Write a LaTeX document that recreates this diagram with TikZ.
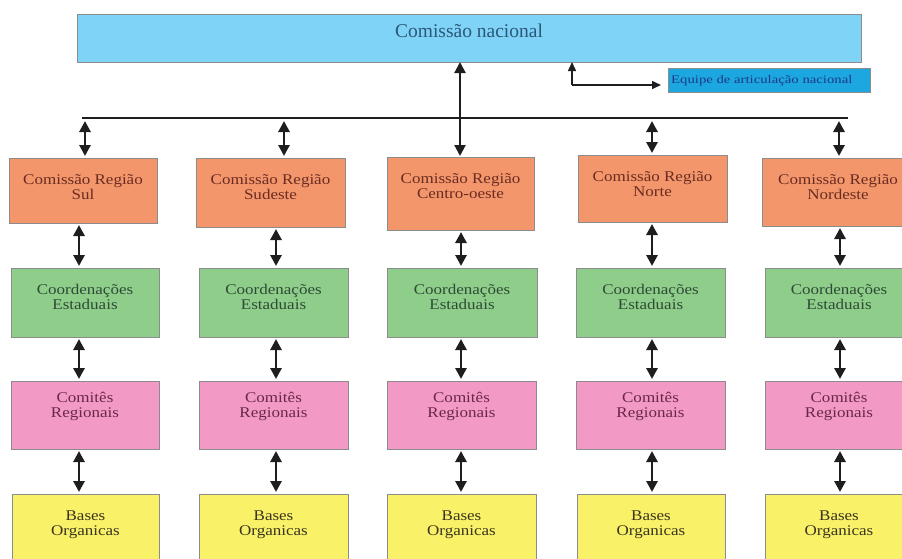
\documentclass[tikz,border=0pt]{standalone}
\usepackage{fontspec}
\setmainfont{Liberation Serif}
\newfontfamily\bodyfont{Liberation Serif}[FakeStretch=1.15]
\newfontfamily\eqfont{Liberation Serif}[FakeStretch=1.27]
\usetikzlibrary{arrows.meta}
\definecolor{topblue}{HTML}{7FD3F6}
\definecolor{eqblue}{HTML}{1CA7E0}
\definecolor{orangebox}{HTML}{F4966B}
\definecolor{greenbox}{HTML}{8FCE8A}
\definecolor{pinkbox}{HTML}{F29AC5}
\definecolor{yellowbox}{HTML}{F9F167}
\definecolor{bordergray}{HTML}{8C8C8C}
\definecolor{toptext}{HTML}{2C5878}
\definecolor{eqtext}{HTML}{1B3A8A}
\definecolor{orangetext}{HTML}{6A2C22}
\definecolor{greentext}{HTML}{2E4A36}
\definecolor{pinktext}{HTML}{6A2846}
\definecolor{yellowtext}{HTML}{3A3420}
\definecolor{arrowblack}{HTML}{1E1E1E}
\tikzset{
  box/.style={draw=bordergray, line width=0.9pt, rectangle, inner sep=0pt, outer sep=0pt, anchor=north west},
  obox/.style={box, fill=orangebox},
  gbox/.style={box, fill=greenbox},
  pbox/.style={box, fill=pinkbox},
  ybox/.style={box, fill=yellowbox},
  txt/.style={inner sep=0pt, outer sep=0pt, anchor=north, align=center, font=\bodyfont\fontsize{14.8}{15}\selectfont},
  dbl/.style={draw=arrowblack, line width=2.8pt, {Triangle[length=11pt,width=11pt]}-{Triangle[length=11pt,width=11pt]}, shorten <=2pt, shorten >=2pt},
  sarr/.style={draw=arrowblack, line width=1.5pt, -{Triangle[length=9pt,width=8pt]}},
  bar/.style={draw=arrowblack, line width=2.6pt}
}
\begin{document}
\begin{tikzpicture}[x={(1pt,0)}, y={(0,-1pt)}]
\useasboundingbox (0,0) rectangle (902,558);
\clip (0,0) rectangle (902,558);
% top box
\node[box, fill=topblue, minimum width=784pt, minimum height=48pt] (top) at (77,14) {};
\node[inner sep=0pt, anchor=north, text=toptext, font=\fontsize{19.5}{20}\selectfont] (topt) at ([yshift=-9.5pt]top.north) {Comissão nacional};
% equipe box
\node[box, fill=eqblue, minimum width=202pt, minimum height=24pt] (eq) at (668,68) {};
\node[inner sep=0pt, anchor=base west, text=eqtext, font=\eqfont\fontsize{11.6}{12}\selectfont] (eqt) at (671,83) {Equipe de articulação nacional};
\coordinate (eqc) at (572,85);
\coordinate (eqtip) at (661,85);
\draw[sarr] (eqc) -- (eqc |- top.south);
\draw[sarr] (eqc) -- (eqtip);
% row 1
\node[obox, minimum width=148pt, minimum height=65pt] (s1) at (9,158) {};
\node[obox, minimum width=149pt, minimum height=69pt] (se1) at (196,158) {};
\node[obox, minimum width=147pt, minimum height=73pt] (c1) at (387,157) {};
\node[obox, minimum width=149pt, minimum height=67pt] (n1) at (578,155) {};
\node[obox, minimum width=152pt, minimum height=68pt] (ne1) at (762,158) {};
% row 2
\node[gbox, minimum width=148pt, minimum height=69pt] (s2) at (11,268) {};
\node[gbox, minimum width=149pt, minimum height=69pt] (se2) at (199,268) {};
\node[gbox, minimum width=150pt, minimum height=69pt] (c2) at (387,268) {};
\node[gbox, minimum width=149pt, minimum height=69pt] (n2) at (576,268) {};
\node[gbox, minimum width=148pt, minimum height=69pt] (ne2) at (765,268) {};
% row 3
\node[pbox, minimum width=148pt, minimum height=68pt] (s3) at (11,381) {};
\node[pbox, minimum width=149pt, minimum height=68pt] (se3) at (199,381) {};
\node[pbox, minimum width=149pt, minimum height=68pt] (c3) at (387,381) {};
\node[pbox, minimum width=149pt, minimum height=68pt] (n3) at (576,381) {};
\node[pbox, minimum width=148pt, minimum height=68pt] (ne3) at (765,381) {};
% row 4
\node[ybox, minimum width=147pt, minimum height=80pt] (s4) at (12,494) {};
\node[ybox, minimum width=149pt, minimum height=80pt] (se4) at (199,494) {};
\node[ybox, minimum width=149pt, minimum height=80pt] (c4) at (387,494) {};
\node[ybox, minimum width=148pt, minimum height=80pt] (n4) at (577,494) {};
\node[ybox, minimum width=148pt, minimum height=80pt] (ne4) at (765,494) {};
% texts row 1
\foreach \n/\t in {s1/Sul, se1/Sudeste, c1/Centro-oeste, n1/Norte, ne1/Nordeste}
  \node[txt, text=orangetext] (\n t) at ([yshift=-16.5pt]\n.north) {Comissão Região\\\t};
% texts row 2
\foreach \n in {s2, se2, c2, n2, ne2}
  \node[txt, text=greentext] (\n t) at ([yshift=-16.5pt]\n.north) {Coordenações\\Estaduais};
% texts row 3
\foreach \n in {s3, se3, c3, n3, ne3}
  \node[txt, text=pinktext] (\n t) at ([yshift=-11.5pt]\n.north) {Comitês\\Regionais};
% texts row 4
\foreach \n in {s4, se4, c4, n4, ne4}
  \node[txt, text=yellowtext] (\n t) at ([yshift=-17pt]\n.north) {Bases\\Organicas};
% bar
\coordinate (barL) at (82,118);
\coordinate (barR) at (848,118);
\draw[bar] (barL) -- (barR);
% central arrow
\coordinate (xC) at (460,0);
\draw[dbl, line width=2.2pt, shorten <=0pt, shorten >=1pt] (xC |- top.south) -- (xC |- c1.north);
% drops from bar
\coordinate (dS) at (85,0);
\coordinate (dSE) at (284,0);
\coordinate (dN) at (652,0);
\coordinate (dNE) at (839,0);
\foreach \d/\n in {dS/s1, dSE/se1, dN/n1, dNE/ne1}
  \draw[dbl, shorten <=3pt] (\d |- barL) -- (\d |- \n.north);
% column arrows
\coordinate (xS) at (79,0);
\coordinate (xSE) at (276,0);
\coordinate (xCe) at (461,0);
\coordinate (xN) at (652,0);
\coordinate (xNE) at (840,0);
\foreach \x/\a/\b/\c/\dd in {xS/s1/s2/s3/s4, xSE/se1/se2/se3/se4, xCe/c1/c2/c3/c4, xN/n1/n2/n3/n4, xNE/ne1/ne2/ne3/ne4} {
  \draw[dbl] (\x |- \a.south) -- (\x |- \b.north);
  \draw[dbl] (\x |- \b.south) -- (\x |- \c.north);
  \draw[dbl] (\x |- \c.south) -- (\x |- \dd.north);
}
\end{tikzpicture}
\end{document}
